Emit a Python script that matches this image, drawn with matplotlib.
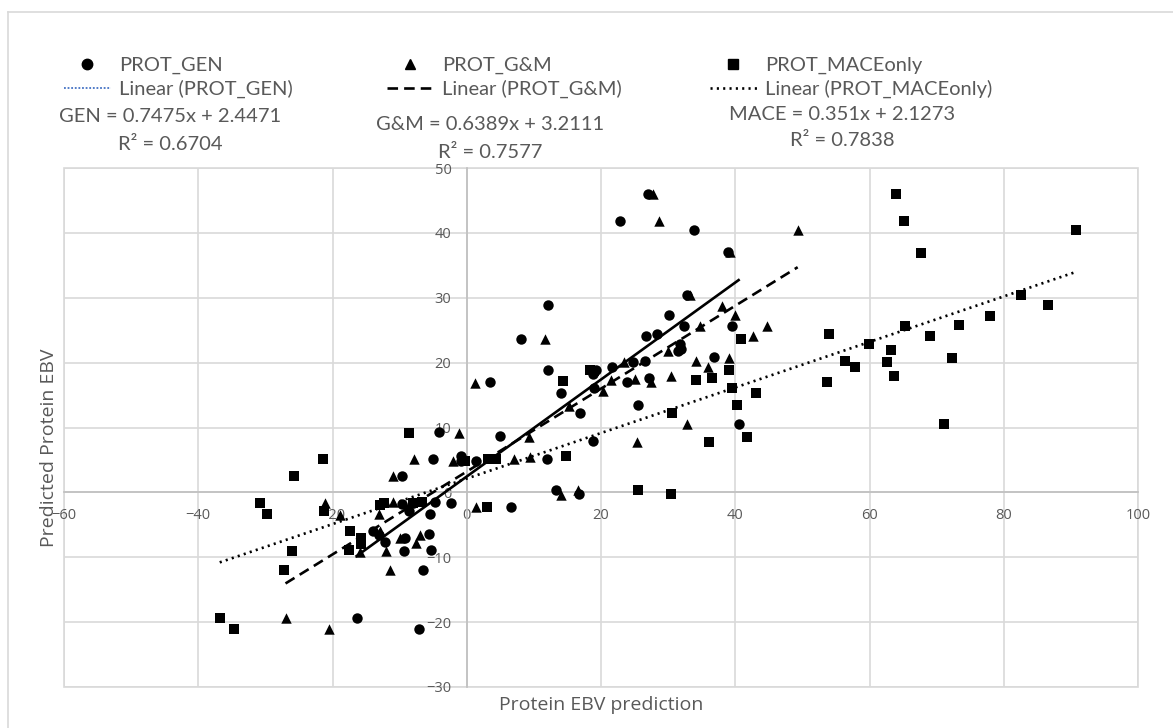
import numpy as np
import matplotlib
matplotlib.use("Agg")
import matplotlib.pyplot as plt
from matplotlib.lines import Line2D
from matplotlib.patches import Rectangle

#points: x = protein EBV prediction, y = predicted protein EBV
gen_x = [27.0, 22.8, 33.9, 38.9, 32.8, 12.1, 30.1, 32.4, 39.5, 28.4,
         26.7, 8.1, 31.7, 31.9, 31.5, 36.9, 26.6, 24.8, 21.6, 19.3,
         18.8, 12.1, 27.2, 23.8, 3.4, 19.0, 14.1, 25.5, 16.8, 40.5,
         -4.1, 5.0, 18.8, 11.9, -5.0, -0.8, -0.8, 1.4, -9.6, 13.3,
         16.7, -4.8, -2.4, -9.6, 6.6, -8.6, -5.5, -14.0, -13.0, -12.2,
         -9.2, -5.6, -9.3, -5.3, -6.5, -16.4, -7.1]
gen_y = [46.0, 41.9, 40.4, 37.0, 30.5, 28.9, 27.3, 25.7, 25.6, 24.4,
         24.1, 23.7, 22.9, 22.1, 21.8, 20.8, 20.2, 20.1, 19.4, 18.9,
         18.3, 18.8, 17.6, 17.0, 17.0, 16.1, 15.3, 13.4, 12.3, 10.6,
         9.3, 8.7, 7.9, 5.1, 5.1, 5.6, 4.8, 4.9, 2.6, 0.4,
         -0.2, -1.5, -1.6, -1.8, -2.3, -2.9, -3.4, -5.9, -6.5, -7.7,
         -7.0, -6.4, -9.0, -8.9, -11.9, -19.3, -21.0]

gm_x = [27.7, 28.7, 49.3, 39.2, 33.2, 38.1, 40.0, 34.7, 44.8, 42.7,
        11.6, 30.0, 39.1, 34.2, 23.4, 35.9, 30.5, 25.0, 21.5, 27.4,
        1.2, 20.3, 15.3, 32.8, -1.2, 9.3, 25.4, 7.1, 9.4, -7.8,
        -2.1, -11.0, 14.1, 16.6, 1.4, -21.1, -18.9, -13.0, -11.0, -8.4,
        -12.9, -10.0, -7.0, -7.5, -15.9, -12.0, -11.5, -27.0, -20.5]
gm_y = [46.0, 41.9, 40.4, 37.0, 30.4, 28.8, 27.3, 25.7, 25.6, 24.1,
        23.7, 21.8, 20.7, 20.2, 20.1, 19.3, 17.9, 17.5, 17.3, 17.0,
        16.9, 15.7, 13.3, 10.6, 9.2, 8.6, 7.8, 5.1, 5.5, 5.1,
        4.8, 2.6, -0.4, 0.3, -2.3, -1.6, -3.5, -3.3, -1.5, -1.6,
        -5.9, -7.1, -6.5, -7.8, -9.2, -9.0, -11.9, -19.3, -21.0]

mace_x = [63.9, 65.2, 90.7, 67.6, 82.5, 86.6, 77.9, 73.4, 65.3, 54.0,
          69.0, 40.9, 59.9, 63.2, 72.3, 56.3, 62.6, 57.9, 39.0, 18.3,
          19.0, 63.7, 36.5, 34.2, 14.3, 53.7, 39.5, 43.1, 40.2, 30.6,
          71.1, -8.6, 41.7, 36.1, 14.8, 3.2, 4.4, -0.3, -21.4, -25.8,
          25.5, 30.4, -30.8, -12.9, -12.4, -8.0, -6.7, 3.0, -21.3, -29.7,
          -17.4, -15.7, -15.7, -17.6, -26.0, -27.2, -36.8, -34.7]
mace_y = [46.0, 41.9, 40.4, 36.9, 30.4, 28.9, 27.2, 25.8, 25.6, 24.4,
          24.1, 23.7, 22.8, 21.9, 20.7, 20.2, 20.1, 19.3, 18.8, 18.9,
          18.7, 17.9, 17.7, 17.3, 17.2, 17.0, 16.1, 15.3, 13.4, 12.3,
          10.6, 9.2, 8.6, 7.8, 5.6, 5.1, 5.1, 4.8, 5.1, 2.6,
          0.3, -0.3, -1.6, -2.0, -1.6, -1.6, -1.5, -2.3, -2.9, -3.4,
          -5.9, -7.1, -7.9, -8.9, -9.0, -11.9, -19.3, -21.0]

#trendline (slope, intercept, r2) as printed on the chart
gen_fit = (0.7475, 2.4471, 0.6704)
gm_fit = (0.6389, 3.2111, 0.7577)
mace_fit = (0.351, 2.1273, 0.7838)

x_ticks = np.arange(-60, 101, 20)
y_ticks = np.arange(-30, 51, 10)

W, H = 1173, 728
def fx(px):
    return px / W
def fy(py):
    return 1 - py / H

plt.rcParams['font.family'] = ['Open Sans', 'DejaVu Sans']
grey = '#595959'
grid_c = '#d9d9d9'
leg_font = {'family': ['Lato', 'DejaVu Sans'], 'size': 14.5}

fig = plt.figure(figsize=(W / 100, H / 100), dpi=100)
ax = fig.add_axes([fx(64), fy(687), (1138 - 64) / W, (687 - 168) / H])

#markers
ax.scatter(gen_x, gen_y, marker='o', s=7.5 ** 2, color='black', linewidths=0, zorder=3)
ax.scatter(gm_x, gm_y, marker='^', s=7.5 ** 2, color='black', linewidths=0, zorder=3)
ax.scatter(mace_x, mace_y, marker='s', s=6.8 ** 2, color='black', linewidths=0, zorder=3)

#linear trendlines over each series' x range
styles = [(gen_x, gen_fit, '-'), (gm_x, gm_fit, (0, (4, 2.3))), (mace_x, mace_fit, (0, (0.8, 1.6)))]
for xs, fit, ls in styles:
    xr = np.array([min(xs), max(xs)])
    ax.plot(xr, fit[0] * xr + fit[1], color='black', lw=1.9, ls=ls, zorder=4)

ax.set_xlim(-60, 100)
ax.set_ylim(-30, 50)
ax.set_xticks(x_ticks)
ax.set_yticks(y_ticks)
ax.grid(True, color=grid_c, lw=1.2)
ax.set_axisbelow(True)
for side in ['left', 'bottom']:
    ax.spines[side].set_position(('data', 0))
    ax.spines[side].set_color('#bfbfbf')
    ax.spines[side].set_linewidth(1.2)
ax.spines['right'].set_visible(False)
ax.spines['top'].set_visible(False)
ax.add_patch(Rectangle((0, 0), 1, 1, transform=ax.transAxes, fill=False,
                       edgecolor=grid_c, lw=1.2, clip_on=False, zorder=0.4))
ax.tick_params(length=0, pad=11, labelsize=10.5, labelcolor=grey)

fig.text(fx(601.5), fy(705), 'Protein EBV prediction', ha='center', va='center', fontsize=14, color=grey)
fig.text(fx(49), fy(448), 'Predicted Protein EBV', ha='center', va='center', rotation=90, fontsize=14, color=grey)

#legend: three columns of (series marker, trendline)
cols = [
    (64, Line2D([], [], marker='o', ls='none', color='black', ms=7.5), 'PROT_GEN',
     Line2D([], [], color='#4472c4', lw=1.3, ls=(0, (1, 1))), 'Linear (PROT_GEN)'),
    (387, Line2D([], [], marker='^', ls='none', color='black', ms=7.5), 'PROT_G&M',
     Line2D([], [], color='black', lw=1.9, ls=(0, (4, 2.3))), 'Linear (PROT_G&M)'),
    (710, Line2D([], [], marker='s', ls='none', color='black', ms=6.8), 'PROT_MACEonly',
     Line2D([], [], color='black', lw=1.9, ls=(0, (0.8, 1.6))), 'Linear (PROT_MACEonly)'),
]
for px, h1, t1, h2, t2 in cols:
    fig.legend([h1, h2], [t1, t2], loc='center left', bbox_to_anchor=(fx(px), fy(77.5)),
               frameon=False, prop=leg_font, handlelength=2.33, handletextpad=0.4,
               labelspacing=0.3, borderpad=0, borderaxespad=0, labelcolor=grey)

#trendline equations
eqs = [('GEN', gen_fit, 170.5, 117), ('G&M', gm_fit, 490, 125), ('MACE', mace_fit, 842, 114)]
for name, fit, px, py in eqs:
    fig.text(fx(px), fy(py), f"{name} = {fit[0]}x + {fit[1]}", ha='center', va='center',
             fontdict=leg_font, color=grey)
    fig.text(fx(px), fy(py + 27), f"R\u00b2 = {fit[2]}", ha='center', va='center',
             fontdict=leg_font, color=grey)

#chart area border (only the top and left edges fall inside the picture)
fig.add_artist(Line2D([fx(7.5), fx(7.5)], [fy(12), 0], transform=fig.transFigure, color=grid_c, lw=1.2))
fig.add_artist(Line2D([fx(7.5), 1], [fy(12), fy(12)], transform=fig.transFigure, color=grid_c, lw=1.2))

fig.savefig('out.png', dpi=100, facecolor='white')
